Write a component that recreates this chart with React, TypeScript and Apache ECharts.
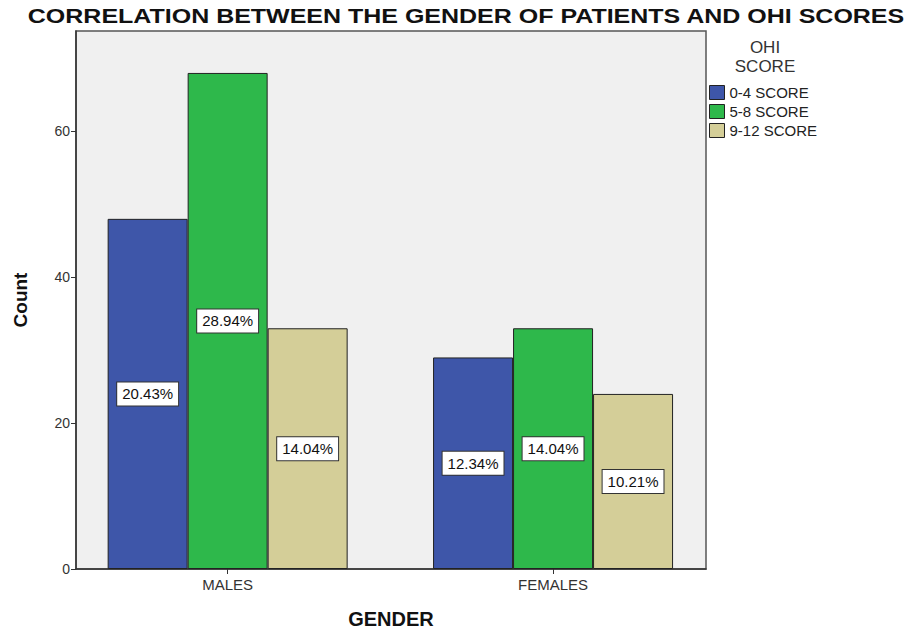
import React, { useEffect, useRef } from "react";
import * as echarts from "echarts";

const categories = ["MALES", "FEMALES"];
const seriesNames = ["0-4 SCORE", "5-8 SCORE", "9-12 SCORE"];
const score04 = [48, 29];
const score58 = [68, 33];
const score912 = [33, 24];
const yTicks = [0, 20, 40, 60];
const colors = ["#3E56A9", "#2EB84B", "#D4CE98"];

const FONT = "'Liberation Sans', Arial, Helvetica, sans-serif";

export default function App() {
  const ref = useRef<HTMLDivElement>(null);
  useEffect(() => {
    if (!ref.current) return;
    const chart = echarts.init(ref.current, undefined, { renderer: "svg" });
    const all = [score04, score58, score912];
    const total = all.reduce((s, arr) => s + arr.reduce((a, b) => a + b, 0), 0);
    const series = all.map((vals, si) => ({
      name: seriesNames[si],
      type: "bar",
      data: vals.map((v, i) => [i, v]),
      barWidth: 80,
      barGap: "0%",
      itemStyle: { color: colors[si], borderColor: "#222", borderWidth: 1 },
      label: {
        show: true,
        position: "inside",
        formatter: (p: any) => ((p.value[1] / total) * 100).toFixed(2) + "%",
        fontFamily: FONT,
        fontSize: 15,
        color: "#111",
        backgroundColor: "#fff",
        borderColor: "#333",
        borderWidth: 1,
        padding: [4, 5, 3, 5],
        lineHeight: 16,
      },
    }));
    chart.setOption({
      animation: false,
      backgroundColor: "#fff",
      textStyle: { fontFamily: FONT },
      grid: {
        left: 76,
        top: 31,
        right: 198,
        bottom: 61,
        show: true,
        backgroundColor: "#F0F0F0",
        borderColor: "#555",
        borderWidth: 1.5,
      },
      legend: {
        orient: "vertical",
        left: 704,
        top: 80,
        itemWidth: 15,
        itemHeight: 14,
        itemGap: 4,
        icon: "rect",
        data: seriesNames,
        textStyle: { fontFamily: FONT, fontSize: 15, color: "#222" },
        itemStyle: { borderColor: "#222", borderWidth: 1 },
      },
      xAxis: {
        type: "value",
        min: -0.466,
        max: 1.47,
        name: "GENDER",
        nameLocation: "middle",
        nameGap: 40,
        nameTextStyle: { fontFamily: FONT, fontSize: 20, fontWeight: "bold", color: "#111" },
        axisLine: { show: true, onZero: false, lineStyle: { color: "#333", width: 1.5 } },
        axisTick: { show: true, length: 5, customValues: [0, 1], lineStyle: { color: "#333" } },
        axisLabel: {
          customValues: [0, 1],
          formatter: (v: number) => categories[Math.round(v)] ?? "",
          fontFamily: FONT,
          fontSize: 15,
          color: "#333",
          margin: 8,
        },
        splitLine: { show: false },
      },
      yAxis: {
        type: "value",
        min: 0,
        max: 73.75,
        interval: 20,
        name: "Count",
        nameLocation: "middle",
        nameGap: 46,
        nameTextStyle: { fontFamily: FONT, fontSize: 19, fontWeight: "bold", color: "#111" },
        axisLine: { show: true, onZero: false, lineStyle: { color: "#333", width: 1.5 } },
        axisTick: { show: true, length: 5, lineStyle: { color: "#333" } },
        axisLabel: {
          showMaxLabel: false,
          formatter: (v: number) => (yTicks.includes(v) ? String(v) : ""),
          fontFamily: FONT,
          fontSize: 14,
          color: "#333",
          margin: 6,
        },
        splitLine: { show: false },
      },
      graphic: [
        {
          type: "text",
          x: 466,
          y: 16,
          scaleX: 1.25,
          style: {
            text: "CORRELATION BETWEEN THE GENDER OF PATIENTS AND OHI SCORES",
            x: 0,
            y: 0,
            align: "center",
            verticalAlign: "middle",
            fontFamily: FONT,
            fontSize: 20,
            fontWeight: "bold",
            fill: "#111",
          },
        },
        {
          type: "text",
          x: 765,
          y: 47,
          style: {
            text: "OHI",
            x: 0,
            y: 0,
            align: "center",
            verticalAlign: "middle",
            fontFamily: FONT,
            fontSize: 17,
            fill: "#333",
          },
        },
        {
          type: "text",
          x: 765,
          y: 66,
          style: {
            text: "SCORE",
            x: 0,
            y: 0,
            align: "center",
            verticalAlign: "middle",
            fontFamily: FONT,
            fontSize: 17,
            fill: "#333",
          },
        },
      ],
      series,
    });
    return () => chart.dispose();
  }, []);
  return (
    <div
      ref={ref}
      style={{ position: "absolute", left: 0, top: 0, width: 904, height: 634 }}
    />
  );
}
